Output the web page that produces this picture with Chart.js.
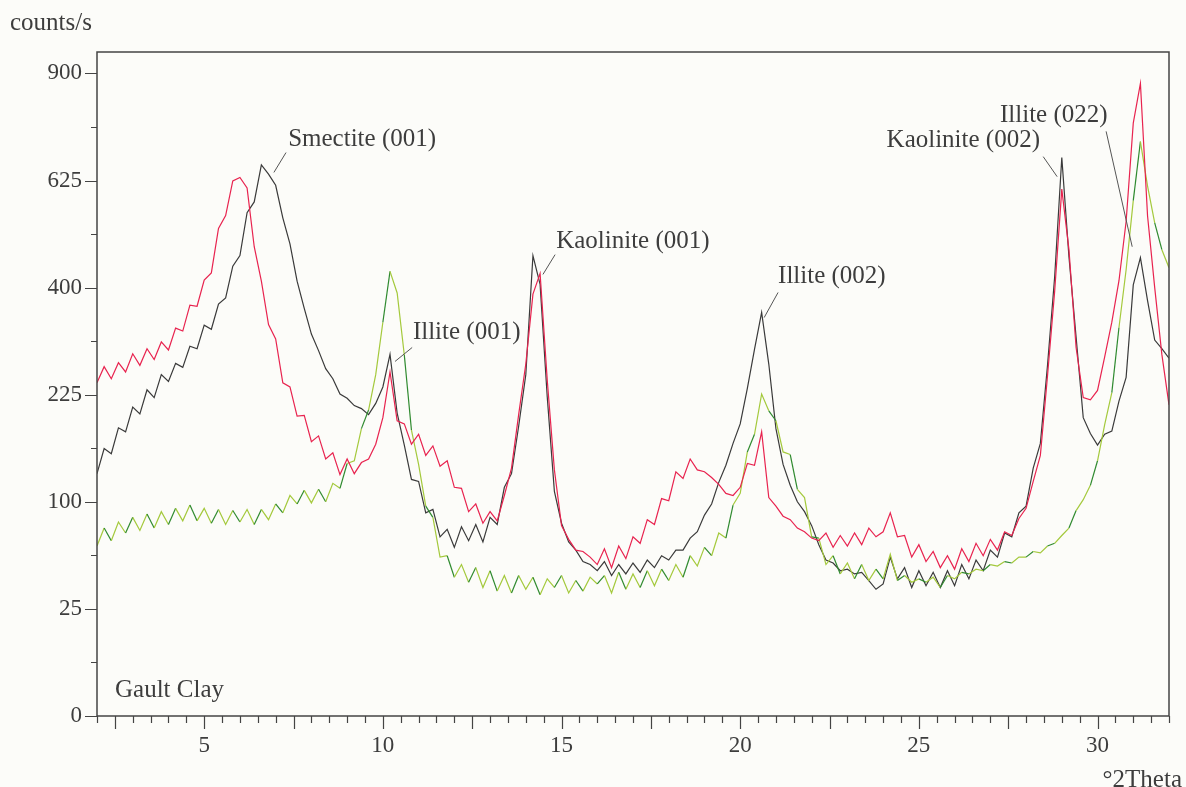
<!DOCTYPE html>
<html>
<head>
<meta charset="utf-8">
<title>Gault Clay XRD</title>
<script src="https://cdn.jsdelivr.net/npm/chart.js@4/dist/chart.umd.min.js"></script>
<style>
  html, body { margin: 0; padding: 0; background: #fcfcf9; }
  canvas { display: block; }
</style>
</head>
<body>
<canvas id="xrd" width="1186" height="787"></canvas>
<script>
// scan: 2 to 32 degrees 2theta, one reading every 0.2 degree
var scanStart = 2, scanStep = 0.2, scanCount = 151;
var angles = [];
for (var i = 0; i < scanCount; i++) angles.push(+(scanStart + i * scanStep).toFixed(1));

// counts/s, 10 readings per row (2 degrees)
var blackCounts = [
  128,156,150,181,176,208,199,232,221,254,
  244,271,265,298,294,333,326,370,381,441,
  462,552,576,662,640,614,541,486,412,362,
  318,291,263,248,226,220,210,206,198,213,
  236,285,200,160,122,120,90,93,70,76,
  62,78,67,80,66,86,80,114,128,183,
  254,462,406,222,110,81,66,60,52,50,
  46,52,43,50,44,51,45,53,48,56,
  53,60,60,69,74,88,98,119,137,162,
  186,234,293,355,270,180,138,116,100,91,
  79,64,53,51,46,47,44,45,40,35,
  38,55,41,48,36,46,37,45,36,46,
  37,50,41,53,46,60,55,73,70,90,
  96,134,162,268,420,680,460,313,194,174,
  160,173,177,216,250,405,458,376,308,294,
  279
];
var redCounts = [
  242,266,248,272,258,286,268,294,277,305,
  292,328,323,368,366,414,428,518,546,624,
  632,608,480,412,334,310,242,236,196,197,
  164,171,144,151,127,144,128,140,144,161,
  194,258,190,186,161,173,148,159,136,142,
  114,113,91,98,81,91,83,106,134,198,
  270,388,427,246,132,79,68,60,59,55,
  50,61,48,63,54,70,65,84,80,103,
  101,130,123,144,132,130,124,117,108,106,
  114,139,137,176,104,96,87,84,77,74,
  69,67,73,62,71,63,73,64,77,70,
  74,90,70,71,55,64,52,59,48,56,
  47,61,52,65,56,68,60,74,71,85,
  94,120,148,252,393,605,474,296,221,218,
  231,281,338,413,533,766,872,545,400,285,
  211
];
var greenCounts = [
  63,77,67,82,73,86,75,89,77,91,
  80,94,83,97,83,94,81,93,80,92,
  82,93,80,93,84,98,90,106,98,111,
  99,112,100,118,113,139,142,180,204,254,
  338,431,390,284,178,138,96,86,55,56,
  42,50,39,48,36,46,34,43,33,43,
  35,42,32,41,36,43,33,40,34,42,
  38,43,33,45,35,44,36,46,37,47,
  40,50,42,56,49,62,56,73,69,97,
  108,152,173,226,203,190,152,149,112,104,
  70,69,50,56,44,51,41,50,40,47,
  41,57,40,43,39,41,39,42,36,43,
  41,45,44,47,46,50,49,52,51,55,
  55,59,58,63,65,71,77,92,102,116,
  142,185,228,329,434,579,719,612,530,474,
  438
];

var xTickLabels = [5, 10, 15, 20, 25, 30];
var yTickLabels = [0, 25, 100, 225, 400, 625, 900];
var yMinorTicks = [6.25, 56.25, 156.25, 306.25, 506.25, 756.25];

// peak names, placed in data units (degrees, counts/s)
var peakNotes = [
  { text: 'Smectite (001)',  x: 7.35,  y: 709, align: 'left',  from: [7.29, 692],  to: [6.95, 644] },
  { text: 'Illite (001)',    x: 10.84, y: 309, align: 'left',  from: [10.82, 296], to: [10.34, 274] },
  { text: 'Kaolinite (001)', x: 14.85, y: 478, align: 'left',  from: [14.82, 464], to: [14.48, 425] },
  { text: 'Illite (002)',    x: 21.06, y: 409, align: 'left',  from: [21.06, 391], to: [20.67, 346] },
  { text: 'Kaolinite (002)', x: 28.39, y: 705, align: 'right', from: [28.48, 682], to: [28.87, 634] },
  { text: 'Illite (022)',    x: 27.27, y: 768, align: 'left',  from: [30.24, 745], to: [30.97, 480] }
];

var serif = '"Liberation Serif", "Times New Roman", serif';
var ink = '#3d3d3d';

// y axis is drawn on a square-root scale, like the diffractometer software
class SqrtScale extends Chart.LinearScale {
  buildTicks() {
    this.start = this.min;
    this.end = this.max;
    return yTickLabels.map(function (v) { return { value: v }; });
  }
  configure() {
    super.configure();
    this._rootMin = Math.sqrt(this.min);
    this._rootMax = Math.sqrt(this.max);
  }
  getPixelForValue(value) {
    var r = Math.sqrt(Math.max(value, 0));
    return this.getPixelForDecimal((r - this._rootMin) / (this._rootMax - this._rootMin));
  }
  getValueForPixel(pixel) {
    var r = this._rootMin + this.getDecimalForPixel(pixel) * (this._rootMax - this._rootMin);
    return r * r;
  }
}
SqrtScale.id = 'sqrt';
SqrtScale.defaults = Chart.LinearScale.defaults;
Chart.register(SqrtScale);

var framePlugin = {
  id: 'frame',
  afterDraw: function (chart) {
    var ctx = chart.ctx, a = chart.chartArea;
    var xs = chart.scales.x, ys = chart.scales.y;
    ctx.save();
    ctx.strokeStyle = '#444';
    ctx.lineWidth = 1.5;
    ctx.strokeRect(a.left, a.top, a.right - a.left, a.bottom - a.top);

    ctx.lineWidth = 1.2;
    ctx.beginPath();
    for (var v = xs.min; v <= xs.max + 1e-6; v += 0.5) {
      var px = Math.round(xs.getPixelForValue(v)) + 0.5;
      var major = Math.abs(v / 2.5 - Math.round(v / 2.5)) < 1e-6;
      ctx.moveTo(px, a.bottom);
      ctx.lineTo(px, a.bottom + (major ? 13 : 7));
    }
    yTickLabels.forEach(function (t) {
      var py = Math.round(ys.getPixelForValue(t)) + 0.5;
      ctx.moveTo(a.left, py);
      ctx.lineTo(a.left - 12, py);
    });
    yMinorTicks.forEach(function (t) {
      var py = Math.round(ys.getPixelForValue(t)) + 0.5;
      ctx.moveTo(a.left, py);
      ctx.lineTo(a.left - 6, py);
    });
    ctx.stroke();

    ctx.fillStyle = ink;
    ctx.font = '25px ' + serif;
    ctx.textBaseline = 'alphabetic';
    ctx.textAlign = 'left';
    ctx.fillText('counts/s', 10, 30);
    ctx.fillText('Gault Clay', a.left + 18, a.bottom - 19);
    ctx.textAlign = 'right';
    ctx.fillText('\u00b02Theta', 1182, 787);

    ctx.strokeStyle = '#555';
    ctx.lineWidth = 1;
    peakNotes.forEach(function (n) {
      ctx.textAlign = n.align;
      ctx.fillText(n.text, xs.getPixelForValue(n.x), ys.getPixelForValue(n.y));
      ctx.beginPath();
      ctx.moveTo(xs.getPixelForValue(n.from[0]), ys.getPixelForValue(n.from[1]));
      ctx.lineTo(xs.getPixelForValue(n.to[0]), ys.getPixelForValue(n.to[1]));
      ctx.stroke();
    });
    ctx.restore();
  }
};

function series(counts) {
  return counts.map(function (c, i) { return { x: angles[i], y: c }; });
}

new Chart(document.getElementById('xrd'), {
  type: 'line',
  data: {
    datasets: [
      { label: 'red', data: series(redCounts), borderColor: '#e8234f', borderWidth: 1.2 },
      {
        label: 'green', data: series(greenCounts), borderColor: '#9cc43a', borderWidth: 1.2,
        segment: { borderColor: function (c) { return c.p0DataIndex % 3 === 1 ? '#2f8a2f' : '#a4c93c'; } }
      },
      { label: 'black', data: series(blackCounts), borderColor: '#3a3a3a', borderWidth: 1.2 }
    ]
  },
  options: {
    responsive: false,
    animation: false,
    devicePixelRatio: 1,
    layout: { padding: { left: 0, top: 52, right: 17, bottom: 0 } },
    elements: { point: { radius: 0 }, line: { tension: 0 } },
    plugins: { legend: { display: false }, tooltip: { enabled: false } },
    scales: {
      x: {
        type: 'linear', min: 2, max: 32,
        afterBuildTicks: function (s) { s.ticks = xTickLabels.map(function (v) { return { value: v }; }); },
        afterFit: function (s) { s.height = 71; },
        grid: { display: false, drawTicks: false },
        border: { display: false },
        ticks: { color: ink, font: { family: serif, size: 23 }, padding: 16, maxRotation: 0, autoSkip: false }
      },
      y: {
        type: 'sqrt', min: 0, max: 961,
        afterFit: function (s) { s.width = 97; },
        grid: { display: false, drawTicks: false },
        border: { display: false },
        ticks: {
          color: ink, font: { family: serif, size: 23 }, padding: 15, autoSkip: false,
          callback: function (v) { return String(v); }
        }
      }
    }
  },
  plugins: [framePlugin]
});
</script>
</body>
</html>
